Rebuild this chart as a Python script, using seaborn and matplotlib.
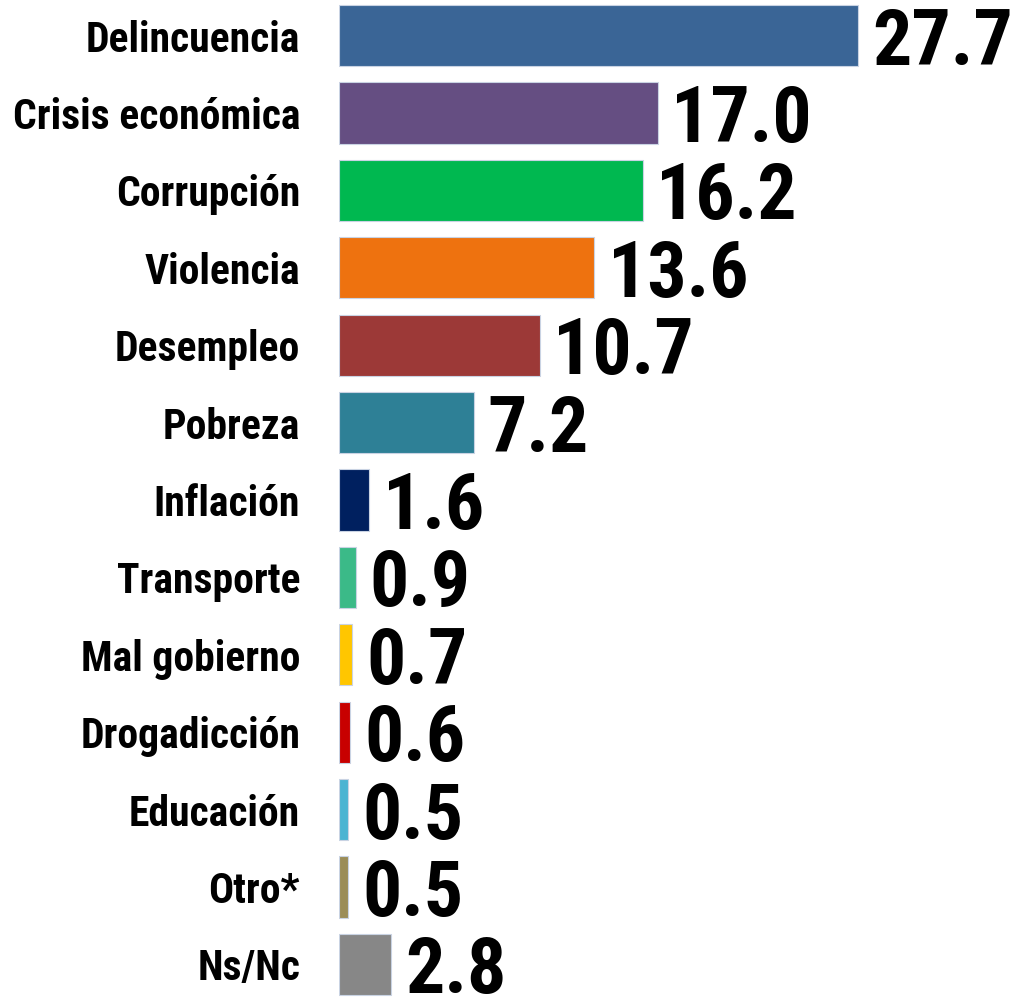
import numpy as np
import pandas as pd
import matplotlib
matplotlib.use("Agg")
import matplotlib.pyplot as plt
import seaborn as sns

# data
categories = ["Delincuencia", "Crisis económica", "Corrupción", "Violencia", "Desempleo",
              "Pobreza", "Inflación", "Transporte", "Mal gobierno", "Drogadicción",
              "Educación", "Otro*", "Ns/Nc"]
values = [27.7, 17.0, 16.2, 13.6, 10.7, 7.2, 1.6, 0.9, 0.7, 0.6, 0.5, 0.5, 2.8]
colors = ["#3A6596", "#654E82", "#00B850", "#EE720F", "#9C3937", "#2E8096", "#00205F",
          "#3BBA88", "#FFC600", "#C80000", "#4BB4D2", "#9B8D57", "#878787"]

sns.set_style("white")
# narrow bold face like the original; falls back if not installed
plt.rcParams["font.family"] = ["Liberation Sans Narrow", "Roboto Condensed", "DejaVu Sans"]

df = pd.DataFrame({"categoria": categories, "valor": values})

fig = plt.figure(figsize=(10.11, 9.97), dpi=100)
ax = fig.add_axes([339 / 1011, 0, 672 / 1011, 1])

sns.barplot(data=df, x="valor", y="categoria", hue="categoria",
            palette=dict(zip(categories, colors)), order=categories,
            orient="h", width=0.79, legend=False, ax=ax, saturation=1,
            edgecolor="#c9d3e3", linewidth=0.8)

for cont in ax.containers:
    anns = ax.bar_label(cont, fmt="%.1f", padding=10, fontsize=56, fontweight="bold",
                        color="black")
    for a in anns:
        a.set_va("center_baseline")

ax.set_xlim(0, 672 / 18.74)
ax.set_ylim(12.42, -0.459)
ax.set_xlabel("")
ax.set_ylabel("")
ax.set_xticks([])
ax.tick_params(axis="y", length=0, pad=28)
for lbl in ax.get_yticklabels():
    lbl.set_fontsize(30)
    lbl.set_fontweight("bold")
    lbl.set_color("black")
sns.despine(ax=ax, left=True, bottom=True)

fig.savefig("out.png", dpi=100)
